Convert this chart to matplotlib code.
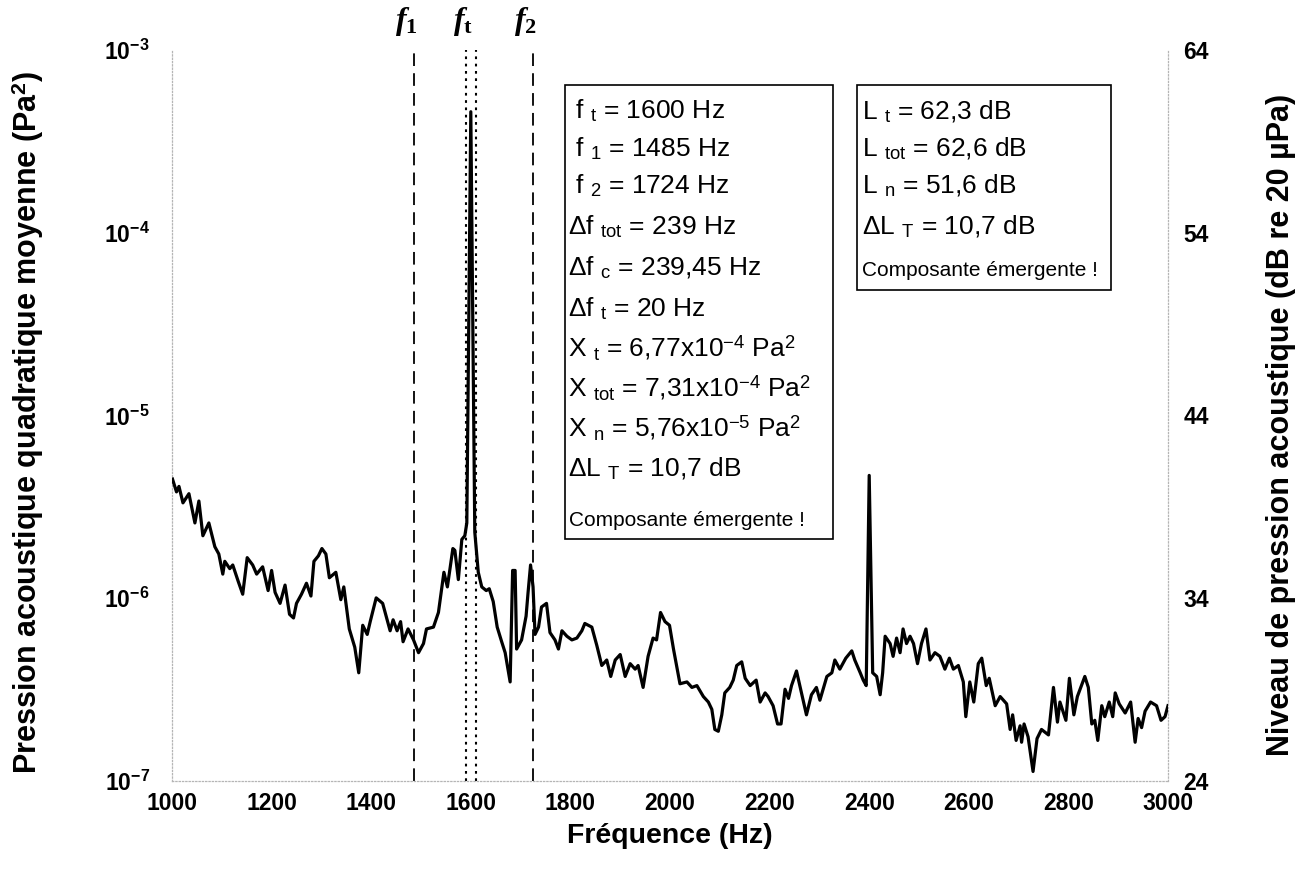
import numpy as np
import matplotlib
matplotlib.use("Agg")
import matplotlib.pyplot as plt
from matplotlib.patches import Rectangle
from matplotlib.ticker import FixedLocator, FuncFormatter, NullLocator
from matplotlib.transforms import blended_transform_factory

plt.rcParams["font.family"] = ["Liberation Sans", "DejaVu Sans"]
plt.rcParams["mathtext.fontset"] = "custom"
plt.rcParams["mathtext.rm"] = "Liberation Sans"
plt.rcParams["mathtext.bf"] = "Liberation Sans:bold"
plt.rcParams["mathtext.it"] = "Liberation Serif:italic:bold"
plt.rcParams["mathtext.sf"] = "Liberation Serif:bold"

# Reference pressure for the dB scale (Pa)
P_REF = 20e-6

# Narrow-band spectrum: frequency (Hz) and level (dB re 20 uPa)
freq_hz = [
    1001, 1009, 1014, 1022, 1034, 1046, 1054, 1062, 1074, 1086,
    1094, 1102, 1106, 1116, 1122, 1133, 1142, 1151, 1162, 1170,
    1182, 1193, 1200, 1207, 1217, 1227, 1236, 1244, 1250, 1260,
    1270, 1279, 1285, 1294, 1301, 1309, 1316, 1329, 1339, 1345,
    1356, 1367, 1375, 1383, 1392, 1398, 1410, 1423, 1438, 1444,
    1452, 1459, 1464, 1474, 1485, 1495, 1505, 1511, 1525, 1535,
    1546, 1553, 1564, 1568, 1575, 1582, 1588, 1592, 1600, 1608,
    1615, 1622, 1631, 1637, 1645, 1653, 1662, 1669, 1679, 1684,
    1689, 1692, 1702, 1711, 1715, 1720, 1725, 1729, 1736, 1742,
    1752, 1759, 1769, 1776, 1783, 1793, 1803, 1813, 1823, 1829,
    1843, 1853, 1863, 1873, 1881, 1890, 1900, 1910, 1920, 1930,
    1936, 1946, 1956, 1966, 1973, 1981, 1990, 1999, 2007, 2020,
    2034, 2044, 2054, 2067, 2077, 2084, 2090, 2097, 2104, 2110,
    2120, 2127, 2134, 2144, 2151, 2161, 2173, 2181, 2191, 2197,
    2207, 2216, 2223, 2231, 2238, 2244, 2254, 2264, 2274, 2284,
    2294, 2301, 2315, 2325, 2331, 2341, 2353, 2365, 2371, 2382,
    2388, 2394, 2400, 2407, 2415, 2422, 2427, 2432, 2442, 2448,
    2455, 2462, 2468, 2475, 2482, 2489, 2497, 2505, 2514, 2522,
    2532, 2542, 2552, 2561, 2569, 2579, 2589, 2594, 2602, 2610,
    2619, 2626, 2635, 2641, 2653, 2663, 2676, 2683, 2688, 2695,
    2703, 2706, 2711, 2719, 2729, 2737, 2746, 2760, 2770, 2778,
    2783, 2795, 2802, 2811, 2818, 2833, 2840, 2847, 2853, 2859,
    2867, 2873, 2882, 2889, 2894, 2902, 2914, 2925, 2934, 2940,
    2947, 2954, 2965, 2977, 2986, 2994, 3000,
]
level_db = [
    40.5, 39.8, 40.1, 39.2, 39.7, 38.1, 39.3, 37.4, 38.1, 36.8,
    36.4, 35.3, 36.0, 35.6, 35.8, 34.9, 34.2, 36.2, 35.8, 35.3,
    35.7, 34.4, 35.5, 34.3, 33.7, 34.7, 33.1, 32.9, 33.7, 34.2,
    34.8, 34.1, 36.0, 36.3, 36.7, 36.4, 35.1, 35.4, 33.9, 34.6,
    32.3, 31.3, 29.9, 32.5, 32.0, 32.7, 34.0, 33.7, 32.2, 32.8,
    32.2, 32.7, 31.6, 32.3, 31.7, 31.0, 31.5, 32.3, 32.4, 33.2,
    35.4, 34.6, 36.7, 36.6, 35.0, 37.2, 37.4, 38.1, 60.6, 37.6,
    35.4, 34.6, 34.4, 34.5, 33.8, 32.4, 31.6, 31.0, 29.4, 35.5,
    35.5, 31.2, 31.7, 33.0, 34.3, 35.8, 34.6, 32.0, 32.4, 33.5,
    33.7, 32.1, 31.7, 31.2, 32.2, 31.9, 31.7, 31.8, 32.2, 32.6,
    32.4, 31.4, 30.3, 30.6, 29.7, 30.6, 30.9, 29.7, 30.4, 30.1,
    30.3, 29.1, 30.8, 31.8, 31.7, 33.2, 32.7, 32.5, 31.2, 29.3,
    29.4, 29.1, 29.2, 28.6, 28.3, 27.9, 26.8, 26.7, 27.6, 28.8,
    29.1, 29.5, 30.3, 30.5, 29.6, 29.2, 29.5, 28.3, 28.8, 28.6,
    28.1, 27.1, 27.1, 29.0, 28.5, 29.2, 30.0, 28.8, 27.6, 28.7,
    29.1, 28.4, 29.7, 29.9, 30.6, 30.1, 30.7, 31.1, 30.6, 29.9,
    29.5, 29.2, 40.7, 29.9, 29.7, 28.7, 29.9, 31.9, 31.5, 30.8,
    31.8, 31.0, 32.3, 31.5, 31.9, 31.5, 30.4, 31.5, 32.3, 30.6,
    31.0, 30.8, 30.1, 30.7, 30.1, 30.3, 29.4, 27.5, 29.4, 28.3,
    30.4, 30.7, 29.2, 29.6, 28.1, 28.6, 28.2, 26.8, 27.6, 26.2,
    27.0, 26.1, 27.1, 26.4, 24.5, 26.3, 26.8, 26.5, 29.1, 27.2,
    28.3, 27.3, 29.6, 27.6, 28.6, 29.7, 29.1, 27.1, 27.3, 26.2,
    28.1, 27.5, 28.3, 27.5, 28.8, 28.2, 27.7, 28.3, 26.1, 27.4,
    26.9, 27.8, 28.3, 28.1, 27.3, 27.5, 28.1,
]

# Tonal component and critical band limits
f_tonal = 1600
f_low = 1485
f_high = 1724
df_critical = "239,45"
df_tonal = 20

# Axis ticks
x_ticks = [1000, 1200, 1400, 1600, 1800, 2000, 2200, 2400, 2600, 2800, 3000]
left_ticks = [1e-7, 1e-6, 1e-5, 1e-4, 1e-3]
right_ticks = [24, 34, 44, 54, 64]

W, H = 1298, 884
fig = plt.figure(figsize=(W / 100, H / 100), dpi=100)
ax = fig.add_axes([172 / W, 1 - 781 / H, 996 / W, 731 / H])

msq = P_REF ** 2 * 10 ** (np.asarray(level_db) / 10.0)
ax.plot(freq_hz, msq, color="black", lw=2.3, zorder=3)

ax.set_yscale("log")
ax.set_xlim(1000, 3000)
ax.set_ylim(1e-7, 1e-3)

# Band limits and tonal bandwidth
for f in (f_low, f_high):
    ax.axvline(f, color="black", lw=1.3, ls=(0, (7, 4)), zorder=2)
for f in (f_tonal - df_tonal / 2, f_tonal + df_tonal / 2):
    ax.axvline(f, color="black", lw=1.5, ls=(0, (1.3, 2.2)), zorder=2)

ax.xaxis.set_major_locator(FixedLocator(x_ticks))
ax.yaxis.set_major_locator(FixedLocator(left_ticks))
ax.yaxis.set_minor_locator(NullLocator())
ax.yaxis.set_major_formatter(
    FuncFormatter(lambda v, p: r"$\mathbf{10^{%d}}$" % int(round(np.log10(v))))
)
ax.tick_params(axis="x", length=0, labelsize=16.5, pad=8)
ax.tick_params(axis="y", length=0, labelsize=16.5, pad=16)
for lab in ax.get_xticklabels():
    lab.set_fontweight("bold")

for name, sp in ax.spines.items():
    sp.set_color("#b5b5b5")
    sp.set_linestyle(":")
    sp.set_linewidth(0.9)
ax.spines["top"].set_visible(False)

ax2 = ax.twinx()
ax2.set_ylim(24, 64)
ax2.yaxis.set_major_locator(FixedLocator(right_ticks))
ax2.tick_params(axis="y", length=0, labelsize=16.5, pad=11)
for lab in ax2.get_yticklabels():
    lab.set_fontweight("bold")
for sp in ax2.spines.values():
    sp.set_visible(False)

# Axis titles
fig.text(670 / W, 1 - 836 / H, "Fréquence (Hz)", ha="center", va="center",
         fontsize=20.5, fontweight="bold")
fig.text(28 / W, 1 - 422 / H, "Pression acoustique quadratique moyenne (Pa$^\\mathbf{2}$)",
         ha="center", va="center", rotation=90, fontsize=22, fontweight="bold")
fig.text(1281 / W, 1 - 425 / H, "Niveau de pression acoustique (dB re 20 µPa)",
         ha="center", va="center", rotation=90, fontsize=22, fontweight="bold")

# Frequency markers above the plot
top_tr = blended_transform_factory(ax.transData, fig.transFigure)
for f, sub in ((f_low, "1"), (f_tonal, "t"), (f_high, "2")):
    ax.text(f - 15, 1 - 21 / H, r"$f_\mathsf{%s}$" % sub, transform=top_tr,
            ha="center", va="center", fontsize=23)

# Result boxes
def px_to_axes(x, y):
    return (x - 172) / 996, (781 - y) / 731

def draw_box(x0, y0, x1, y1):
    a0 = px_to_axes(x0, y1)
    a1 = px_to_axes(x1, y0)
    ax.add_patch(Rectangle(a0, a1[0] - a0[0], a1[1] - a0[1], transform=ax.transAxes,
                           facecolor="white", edgecolor="black", lw=1.2, zorder=4))

draw_box(565, 85, 833, 539)
draw_box(857, 85, 1111, 290)

box1_lines = [
    (" f $_\\mathrm{t}$ = %d Hz" % f_tonal, 118.5),
    (" f $_\\mathrm{1}$ = %d Hz" % f_low, 156.5),
    (" f $_\\mathrm{2}$ = %d Hz" % f_high, 193.5),
    ("Δf $_\\mathrm{tot}$ = %d Hz" % (f_high - f_low), 234.5),
    ("Δf $_\\mathrm{c}$ = %s Hz" % df_critical, 275.0),
    ("Δf $_\\mathrm{t}$ = %d Hz" % df_tonal, 316.5),
    ("X $_\\mathrm{t}$ = 6,77x10$^{-4}$ Pa$^2$", 356.5),
    ("X $_\\mathrm{tot}$ = 7,31x10$^{-4}$ Pa$^2$", 396.5),
    ("X $_\\mathrm{n}$ = 5,76x10$^{-5}$ Pa$^2$", 436.5),
    ("ΔL $_\\mathrm{T}$ = 10,7 dB", 476.5),
]
for txt, yb in box1_lines:
    ax.text(*px_to_axes(568, yb), txt, transform=ax.transAxes, ha="left",
            va="baseline", fontsize=19, zorder=5)
ax.text(*px_to_axes(569, 526), "Composante émergente !", transform=ax.transAxes,
        ha="left", va="baseline", fontsize=15, zorder=5)

box2_lines = [
    ("L $_\\mathrm{t}$ = 62,3 dB", 119.0),
    ("L $_\\mathrm{tot}$ = 62,6 dB", 156.5),
    ("L $_\\mathrm{n}$ = 51,6 dB", 193.5),
    ("ΔL $_\\mathrm{T}$ = 10,7 dB", 234.0),
]
for txt, yb in box2_lines:
    ax.text(*px_to_axes(862, yb), txt, transform=ax.transAxes, ha="left",
            va="baseline", fontsize=19, zorder=5)
ax.text(*px_to_axes(862, 276), "Composante émergente !", transform=ax.transAxes,
        ha="left", va="baseline", fontsize=15, zorder=5)

fig.savefig("out.png", dpi=100, facecolor="white")
